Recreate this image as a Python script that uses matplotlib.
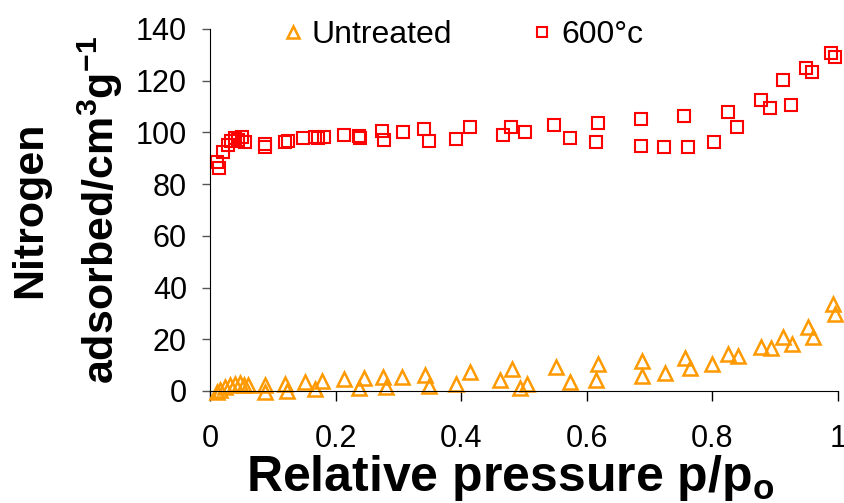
import matplotlib
matplotlib.use("Agg")
import matplotlib.pyplot as plt

p_600 = [0.010, 0.014, 0.020, 0.028, 0.033, 0.039, 0.044, 0.050, 0.055, 0.087,
         0.087, 0.119, 0.124, 0.148, 0.167, 0.172, 0.181, 0.212, 0.236, 0.238,
         0.273, 0.276, 0.307, 0.341, 0.349, 0.392, 0.413, 0.466, 0.479, 0.502,
         0.547, 0.573, 0.618, 0.614, 0.686, 0.686, 0.723, 0.761, 0.755, 0.802,
         0.824, 0.839, 0.877, 0.892, 0.912, 0.925, 0.949, 0.958, 0.989, 0.995]
v_600 = [88.5, 86.2, 92.6, 95.2, 96.8, 97.8, 97.1, 98.4, 96.4, 95.5,
         94.5, 96.4, 96.8, 97.8, 98.1, 97.8, 98.4, 99.0, 98.6, 97.8,
         100.7, 97.1, 100.3, 101.2, 96.8, 97.4, 102.0, 99.0, 102.0, 100.3,
         102.9, 97.8, 103.8, 96.4, 105.2, 94.8, 94.3, 94.5, 106.4, 96.1,
         107.7, 102.2, 112.6, 109.4, 120.3, 110.6, 124.8, 123.3, 130.9, 129.1]

p_untreated = [0.010, 0.015, 0.023, 0.031, 0.039, 0.047, 0.054, 0.060, 0.087, 0.087,
               0.118, 0.122, 0.150, 0.166, 0.177, 0.212, 0.236, 0.244, 0.275, 0.279,
               0.305, 0.342, 0.349, 0.392, 0.413, 0.462, 0.481, 0.493, 0.504, 0.550,
               0.573, 0.617, 0.615, 0.687, 0.687, 0.724, 0.756, 0.764, 0.800, 0.825,
               0.840, 0.877, 0.893, 0.913, 0.926, 0.953, 0.960, 0.992, 0.995]
v_untreated = [-0.5, 0.4, 1.7, 2.3, 2.7, 3.0, 2.3, 2.3, 2.3, -0.3,
               2.7, 0.1, 3.6, 0.7, 3.9, 4.6, 1.0, 4.9, 5.5, 1.7,
               5.5, 6.2, 2.1, 2.6, 7.5, 4.3, 8.5, 1.0, 2.7, 9.2,
               3.4, 10.4, 4.3, 11.7, 5.8, 7.1, 12.9, 8.8, 10.4, 14.3,
               13.5, 16.9, 16.5, 21.0, 18.2, 24.6, 21.0, 33.7, 29.8]

x_ticks = [0, 0.2, 0.4, 0.6, 0.8, 1]
x_ticklabels = ["0", "0.2", "0.4", "0.6", "0.8", "1"]
y_ticks = [0, 20, 40, 60, 80, 100, 120, 140]

# --- Fonts ---
plt.rcParams['font.family'] = ['Liberation Sans', 'DejaVu Sans']
plt.rcParams['mathtext.fontset'] = 'custom'
plt.rcParams['mathtext.rm'] = 'Liberation Sans'
plt.rcParams['mathtext.bf'] = 'Liberation Sans:bold'

# --- Plot ---
fig = plt.figure(figsize=(8.45, 5.03), dpi=100)
ax = fig.add_axes([0.2491, 0.2227, 0.7426, 0.7197])

ax.plot(p_untreated, v_untreated, linestyle='none', marker='^', markersize=9.5,
        markerfacecolor='none', markeredgecolor='#FF9900', markeredgewidth=1.8,
        clip_on=False, label='Untreated')
ax.plot(p_600, v_600, linestyle='none', marker='s', markersize=9.3,
        markerfacecolor='none', markeredgecolor='#FF0000', markeredgewidth=1.5,
        clip_on=False, label='600°c')

ax.set_xlim(0, 1)
ax.set_ylim(0, 140)
ax.set_xticks(x_ticks)
ax.set_xticklabels(x_ticklabels)
ax.set_yticks(y_ticks)

ax.spines['top'].set_visible(False)
ax.spines['right'].set_visible(False)
ax.spines['left'].set_color('black')
ax.spines['bottom'].set_color('black')
ax.tick_params(axis='both', direction='out', width=1, labelsize=22)
ax.tick_params(axis='y', length=6, pad=11, colors='#555555', labelcolor='black')
ax.tick_params(axis='x', length=7.5, pad=16)

ax.set_xlabel(r'Relative pressure $\mathbf{p/p_o}$', fontsize=36,
              fontweight='bold', labelpad=1)
ax.xaxis.set_label_coords(0.477, -0.17)
ax.xaxis.label.set_va('top')
ax.set_ylabel('Nitrogen\n' + r'$\mathbf{adsorbed/cm^3g^{-1}}$', fontsize=31,
              fontweight='bold', labelpad=8, linespacing=1.65)

ax.legend(loc='center', bbox_to_anchor=(0.40, 0.982), ncol=2, frameon=False,
          fontsize=23, markerscale=0.85, handlelength=0.8, handletextpad=0.2,
          columnspacing=2.4, borderaxespad=0)

fig.savefig('out.png', dpi=100)
